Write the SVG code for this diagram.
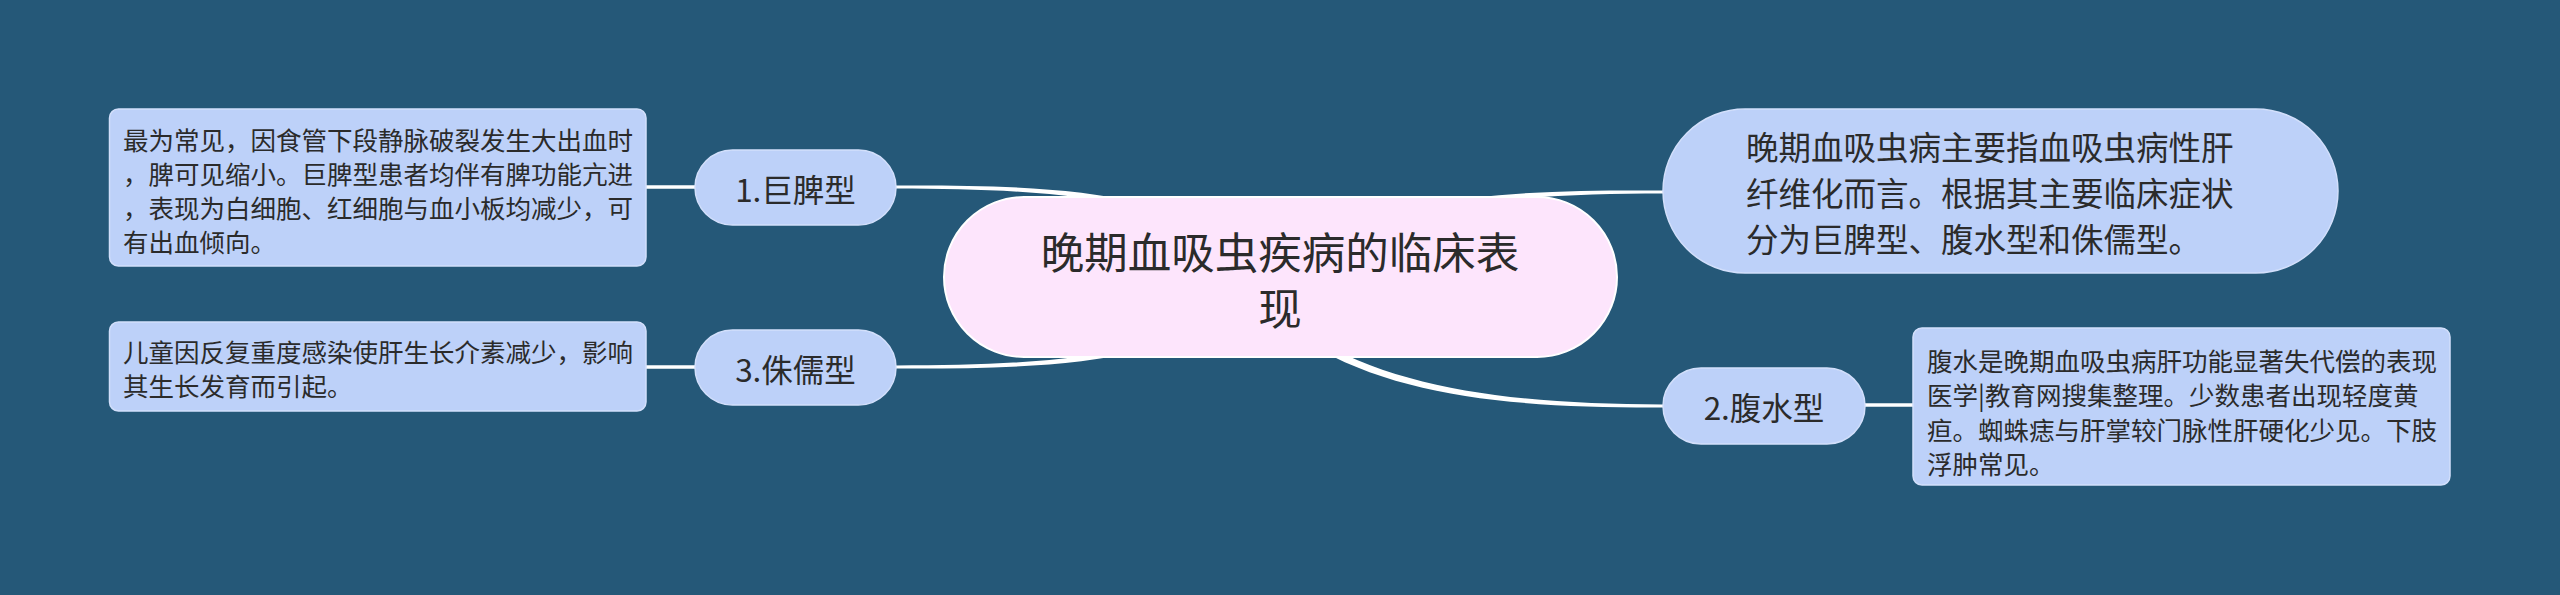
<svg xmlns="http://www.w3.org/2000/svg" width="2560" height="595" viewBox="0 0 2560 595">
<style>
.t{font-family:"Noto Sans CJK SC","Noto Sans",sans-serif;fill:#2b2b2b;dominant-baseline:central}
.blue{fill:#bdd1f9;stroke:#d2dffb;stroke-width:1.5}
.leaf{font-size:25.5px}
.br{font-size:31.5px;text-anchor:middle}
.conn{fill:#ffffff}
.ln{stroke:#ffffff;stroke-width:3.5;fill:none}
</style>
<rect width="2560" height="595" fill="#255878"/>
<g id="connectors">
<path class="conn" d="M 896,185.5 C 1040,185 1160,189 1240,246 L 1240,254 C 1160,195 1040,189 896,188.5 Z"/>
<path class="conn" d="M 896,365.5 C 1040,365 1160,359 1240,300 L 1240,308 C 1160,365 1040,369 896,368.5 Z"/>
<path class="conn" d="M 1663,190.5 C 1540,190 1420,192 1330,236 L 1330,244 C 1420,199 1540,194 1663,193.5 Z"/>
<path class="conn" d="M 1663,404.5 C 1520,404 1400,391 1310,336 L 1310,344 C 1400,398 1520,408 1663,407.5 Z"/>
<line class="ln" x1="646" y1="187" x2="695" y2="187"/>
<line class="ln" x1="646" y1="367" x2="695" y2="367"/>
<line class="ln" x1="1865" y1="405" x2="1913" y2="405"/>
</g>
<g id="center">
<rect x="944" y="197" width="673" height="160" rx="80" fill="#fde5fc" stroke="#ffffff" stroke-width="2"/>
<text class="t" font-size="43.5" text-anchor="middle"><tspan x="1280" y="250">晚期血吸虫疾病的临床表</tspan><tspan x="1280" y="306">现</tspan></text>
</g>
<g id="summary">
<rect class="blue" x="1663" y="109" width="675" height="164" rx="82"/>
<text class="t" font-size="32.5"><tspan x="1746" y="145">晚期血吸虫病主要指血吸虫病性肝</tspan><tspan x="1746" y="191">纤维化而言。根据其主要临床症状</tspan><tspan x="1746" y="237">分为巨脾型、腹水型和侏儒型。</tspan></text>
</g>
<g id="branch1">
<rect class="blue" x="695" y="150" width="201" height="75" rx="37.5"/>
<text class="t br" x="795.5" y="187.5">1.巨脾型</text>
</g>
<g id="branch3">
<rect class="blue" x="695" y="330" width="201" height="75" rx="37.5"/>
<text class="t br" x="795.5" y="367.5">3.侏儒型</text>
</g>
<g id="branch2">
<rect class="blue" x="1663" y="368" width="202" height="76" rx="38"/>
<text class="t br" x="1764" y="406">2.腹水型</text>
</g>
<g id="leaf1">
<rect class="blue" x="109.5" y="109" width="536.5" height="157" rx="9"/>
<text class="t leaf"><tspan x="123" y="137.5">最为常见，因食管下段静脉破裂发生大出血时</tspan><tspan x="123" y="171.5">，脾可见缩小。巨脾型患者均伴有脾功能亢进</tspan><tspan x="123" y="205.5">，表现为白细胞、红细胞与血小板均减少，可</tspan><tspan x="123" y="239.5">有出血倾向。</tspan></text>
</g>
<g id="leaf3">
<rect class="blue" x="109.5" y="322" width="536.5" height="89" rx="9"/>
<text class="t leaf"><tspan x="123" y="349.5">儿童因反复重度感染使肝生长介素减少，影响</tspan><tspan x="123" y="383.5">其生长发育而引起。</tspan></text>
</g>
<g id="leaf2">
<rect class="blue" x="1913" y="328" width="537" height="157" rx="9"/>
<text class="t leaf"><tspan x="1927" y="358.5">腹水是晚期血吸虫病肝功能显著失代偿的表现</tspan><tspan x="1927" y="393">医学|教育网搜集整理。少数患者出现轻度黄</tspan><tspan x="1927" y="427.5">疸。蜘蛛痣与肝掌较门脉性肝硬化少见。下肢</tspan><tspan x="1927" y="462">浮肿常见。</tspan></text>
</g>
</svg>
